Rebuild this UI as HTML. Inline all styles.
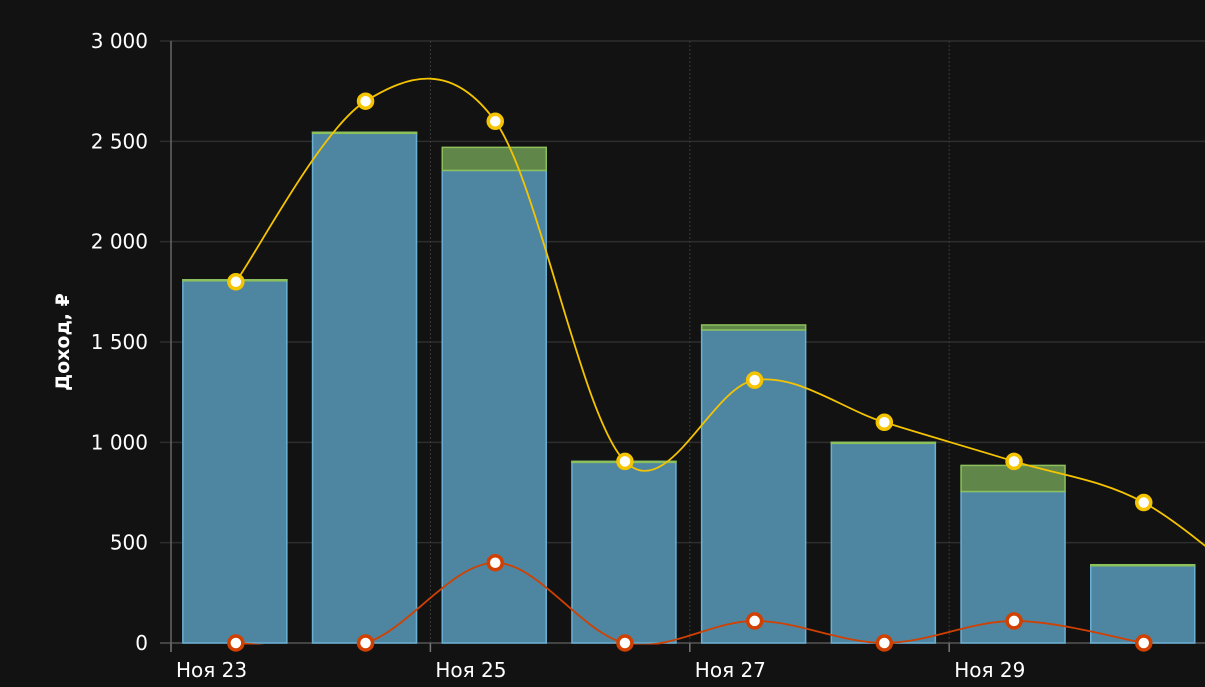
<!DOCTYPE html>
<html><head><meta charset="utf-8"><style>
html,body{margin:0;padding:0;background:#121212;}
svg{display:block;font-family:"DejaVu Sans","Liberation Sans",sans-serif;}
</style></head><body>
<svg id="chart" width="1205" height="687" viewBox="0 0 1205 687">
<defs><clipPath id="plotclip"><rect x="0" y="0" width="1205" height="644.5"/></clipPath></defs>
<rect x="0" y="0" width="1205" height="687" fill="#121212"/>
<g id="grid"></g>
<g id="bars"></g>
<g id="lines"></g>
<g id="axes"></g>
<text transform="translate(69,342) rotate(-90)" text-anchor="middle" fill="#fff" font-size="19" font-weight="bold">Доход, ₽</text>
</svg>
<script>
const days = ["Ноя 23","Ноя 24","Ноя 25","Ноя 26","Ноя 27","Ноя 28","Ноя 29","Ноя 30"];
const blueVals = [1810,2545,2355,905,1560,1000,755,390];
const greenVals = [0,0,115,0,25,0,130,0];
const yellowVals = [1800,2700,2600,905,1310,1100,905,700,200];
const redVals = [0,0,400,0,110,0,110,0];
const yTicks = [0,500,1000,1500,2000,2500,3000];
const yTickLabels = ["0","500","1 000","1 500","2 000","2 500","3 000"];
const xTickLabels = ["Ноя 23","Ноя 25","Ноя 27","Ноя 29"];
const xTickDays = [0,2,4,6];

const NS="http://www.w3.org/2000/svg";
const X0=171, DAY=129.7, Y0=643, PPU=(643-41)/3000;
const xDay=d=>X0+d*DAY;
const xc=i=>xDay(i+0.5);
const y=v=>Y0-v*PPU;
function mk(tag,attrs,parent){const e=document.createElementNS(NS,tag);for(const k in attrs)e.setAttribute(k,attrs[k]);parent.appendChild(e);return e;}
const grid=document.getElementById('grid'),bars=document.getElementById('bars'),lines=document.getElementById('lines'),axes=document.getElementById('axes');

yTicks.forEach((t,i)=>{
  const l=mk('line',{x1:160,x2:1205,y1:y(t),y2:y(t),stroke:t===0?'#555':'#2e2e2e','stroke-width':1.5},grid);
  
  
  const tx=mk('text',{x:148,y:y(t)+7,'text-anchor':'end',fill:'#fff','font-size':20},axes);
  tx.textContent=yTickLabels[i];
  
  
});
xTickDays.forEach((d,i)=>{
  if(d>0){const l=mk('line',{x1:xDay(d),x2:xDay(d),y1:41,y2:643,stroke:'#3a3a3a','stroke-width':1,'stroke-dasharray':'2,2'},grid);
  
  }
  const tk=mk('line',{x1:xDay(d),x2:xDay(d),y1:643,y2:652,stroke:'#777','stroke-width':1.5},axes);
  
  
  const tx=mk('text',{x:xDay(d)+5,y:677,fill:'#fff','font-size':20},axes);
  tx.textContent=xTickLabels[i];
  
  
});
const ax=mk('line',{x1:X0,x2:X0,y1:41,y2:652,stroke:'#666','stroke-width':1.5},axes);



const BW=104;
blueVals.forEach((v,i)=>{
  const x=xc(i)-BW/2-1;
  const b=mk('rect',{x:x,y:y(v),width:BW,height:Y0-y(v),fill:'#4e86a2',stroke:'#6ab0d4','stroke-width':1.5},bars);
  
  
  const g=greenVals[i];
  const top=v+g;
  const gr=mk('rect',{x:x,y:y(top),width:BW,height:Math.max(y(v)-y(top),1),fill:'#61864a',stroke:'#8cc05a','stroke-width':1.5},bars);
  
  
});

function spline(pts){
  let d='M'+pts[0][0]+','+pts[0][1];
  for(let i=0;i<pts.length-1;i++){
    const p0=pts[i-1]||pts[i],p1=pts[i],p2=pts[i+1],p3=pts[i+2]||p2;
    const c1=[p1[0]+(p2[0]-p0[0])/6,p1[1]+(p2[1]-p0[1])/6];
    const c2=[p2[0]-(p3[0]-p1[0])/6,p2[1]-(p3[1]-p1[1])/6];
    d+=' C'+c1[0]+','+c1[1]+' '+c2[0]+','+c2[1]+' '+p2[0]+','+p2[1];
  }
  return d;
}
function series(vals,color,name,n,clip){
  const pts=vals.map((v,i)=>[xc(i),y(v)]);
  const p=mk('path',{d:spline(pts),fill:'none',stroke:color,'stroke-width':1.8},lines);
  if(clip)p.setAttribute('clip-path','url(#plotclip)');
  
  
  pts.slice(0,n).forEach(pt=>{
    const c=mk('circle',{cx:pt[0],cy:pt[1],r:7,fill:'#fff',stroke:color,'stroke-width':3.5},lines);
    
    
  });
}
series(yellowVals,'#f5c400','yellow-series',8,false);
series(redVals,'#d04000','red-series',8,true);
</script>
</body></html>
